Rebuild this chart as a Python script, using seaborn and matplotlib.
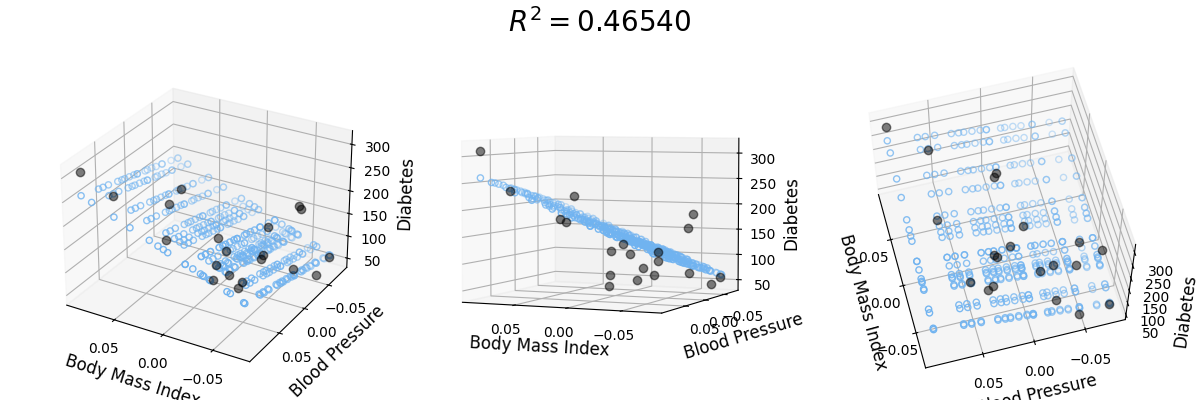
import matplotlib
matplotlib.use("Agg")
import matplotlib.pyplot as plt
import numpy as np
import seaborn as sns

sns.reset_defaults()

bmi = [0.07786, -0.03962, 0.01104, -0.04070, -0.03423, 0.00565, 0.08864, -0.03315, -0.05686, -0.03100,
       0.05523, -0.06010, 0.00134, -0.02345, -0.07411, 0.01966, -0.01591, -0.01591, 0.03906, -0.07303]
blood_pressure = [0.057, 0.032, -0.016, -0.077, 0.048, -0.002, 0.093, -0.020, -0.047, 0.025,
                  -0.002, -0.028, 0.012, -0.036, -0.047, 0.0645, -0.064, 0.020, 0.004, -0.077]
diabetes = [233, 91, 111, 152, 120, 67, 310, 94, 183, 66, 173, 72, 49, 64, 48, 178, 104, 132, 220, 57]

plane_bmi = [0.08864, 0.07786, 0.05523, 0.03906, 0.01966, 0.01104, 0.00565, 0.00134, -0.01591, -0.01591,
             -0.02345, -0.03100, -0.03315, -0.03423, -0.03962, -0.04070, -0.05686, -0.06010, -0.07303, -0.07411]
plane_bp = [0.093, 0.0645, 0.057, 0.048, 0.032, 0.025, 0.020, 0.012, 0.004, -0.002,
            -0.002, -0.016, -0.020, -0.028, -0.036, -0.047, -0.047, -0.064, -0.077, -0.077]
predicted = [
    [260,248,245,242,235,232,230,227,224,221,221,215,214,211,207,203,203,196,190,190],
    [252,240,237,234,227,224,222,219,216,213,213,207,206,203,199,195,195,188,182,182],
    [234,222,219,216,209,206,204,201,198,195,195,189,188,185,181,177,177,170,164,164],
    [221,209,206,203,196,193,191,188,185,182,182,176,175,172,168,164,164,157,151,151],
    [206,194,191,188,181,178,176,173,170,167,167,161,160,157,153,149,149,142,136,136],
    [199,187,184,181,174,171,169,166,163,160,160,154,153,150,146,142,142,135,129,129],
    [195,183,180,177,170,167,165,162,159,156,156,150,149,146,142,138,138,131,125,125],
    [191,179,176,173,166,163,161,158,155,152,152,146,145,142,138,134,134,127,121,121],
    [177,165,162,159,152,149,147,144,141,138,138,132,131,128,124,120,120,113,107,107],
    [177,165,162,159,152,149,147,144,141,138,138,132,131,128,124,120,120,113,107,107],
    [172,160,157,154,147,144,142,139,136,133,133,127,126,123,119,115,115,108,102,102],
    [166,154,151,148,141,138,136,133,130,127,127,121,120,117,113,109,109,102,96,96],
    [164,152,149,146,139,136,134,131,128,125,125,119,118,115,111,107,107,100,94,94],
    [163,151,148,145,138,135,133,130,127,124,124,118,117,114,110,106,106,99,93,93],
    [159,147,144,141,134,131,129,126,123,120,120,114,113,110,106,102,102,95,89,89],
    [158,146,143,140,133,130,128,125,122,119,119,113,112,109,105,101,101,94,88,88],
    [145,133,130,127,120,117,115,112,109,106,106,100,99,96,92,88,88,81,75,75],
    [143,131,128,125,118,115,113,110,107,104,104,98,97,94,90,86,86,79,73,73],
    [132,120,117,114,107,104,102,99,96,93,93,87,86,83,79,75,75,68,62,62],
    [131,119,116,113,106,103,101,98,95,92,92,86,85,82,78,74,74,67,61,61],
]
tick_values = [-0.05, 0.0, 0.05]
r2_text = "0.46540"
views = [(28, 120), (4, 114), (60, 165)]

plane_color = sns.color_palette(["#70b3f0"])[0]
xx, yy = np.meshgrid(plane_bmi, plane_bp, indexing="ij")
zz = np.array(predicted, dtype=float)

fig = plt.figure(figsize=(12, 4), dpi=100)
for i, (elev, azim) in enumerate(views):
    ax = fig.add_subplot(1, 3, i + 1, projection="3d")
    ax.plot(bmi, blood_pressure, diabetes, color="k", zorder=15, linestyle="none", marker="o", alpha=0.5)
    ax.scatter(xx.ravel(), yy.ravel(), zz.ravel(), facecolor=(0, 0, 0, 0), s=20, edgecolor=plane_color)
    ax.set_xlabel("Body Mass Index", fontsize=12)
    ax.set_ylabel("Blood Pressure", fontsize=12)
    ax.set_zlabel("Diabetes", fontsize=12)
    ax.set_xticks(tick_values)
    ax.set_yticks(tick_values)
    ax.view_init(elev=elev, azim=azim)

fig.suptitle(f"$R^2 = {r2_text}$", fontsize=20)
fig.tight_layout()
fig.savefig("out.png", dpi=100)
